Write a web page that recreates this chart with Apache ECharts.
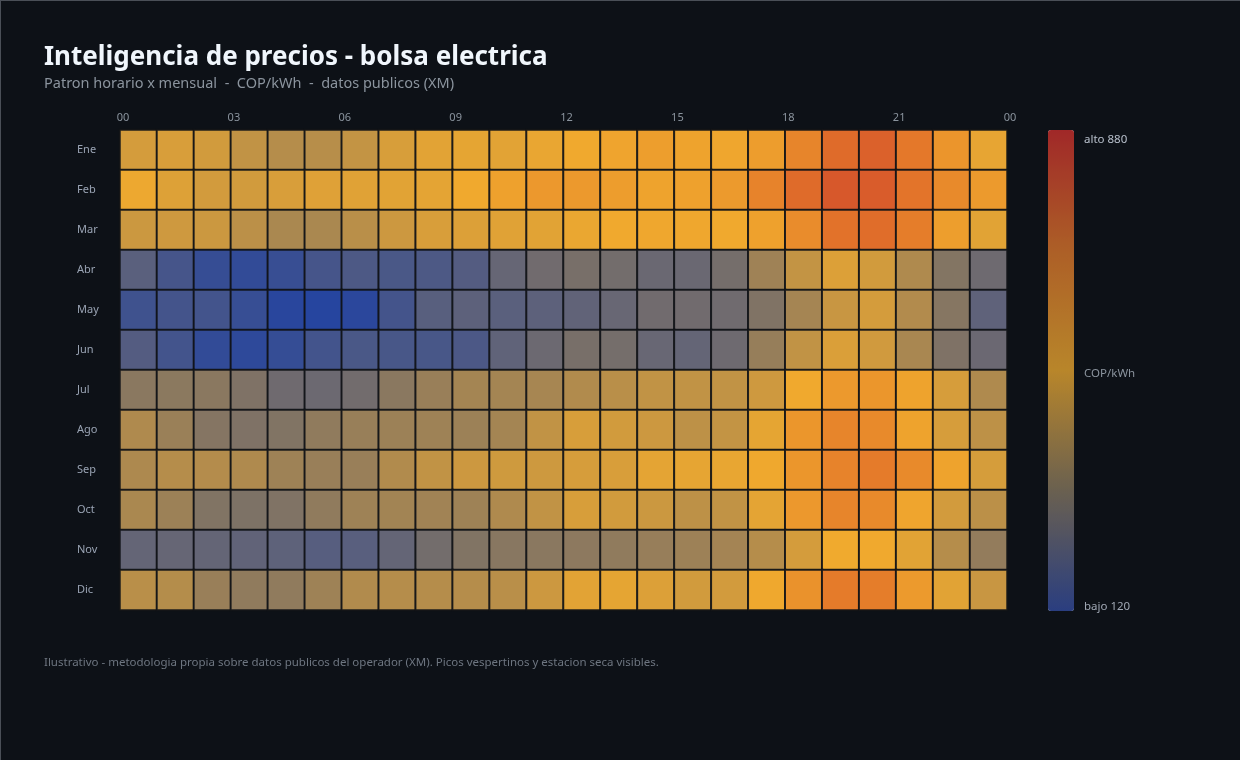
<!DOCTYPE html>
<html lang="es">
<head>
<meta charset="utf-8">
<title>Inteligencia de precios - bolsa electrica</title>
<script src="https://cdn.jsdelivr.net/npm/echarts@6/dist/echarts.min.js"></script>
<style>
  html, body { margin: 0; padding: 0; background: #0d1117; }
  #chart {
    width: 1240px; height: 760px; box-sizing: border-box;
    border-top: 1px solid #4a4f57; border-left: 1px solid #4a4f57;
  }
</style>
</head>
<body>
<div id="chart"></div>
<script>
  // horas del dia (columnas) y meses (filas)
  const horas = ['00','01','02','03','04','05','06','07','08','09','10','11',
                 '12','13','14','15','16','17','18','19','20','21','22','23'];
  const meses = ['Ene','Feb','Mar','Abr','May','Jun','Jul','Ago','Sep','Oct','Nov','Dic'];
  // etiquetas del eje superior (cada 3 horas, 24 -> 00)
  const horasEje = [0, 3, 6, 9, 12, 15, 18, 21, 24];

  // precio bolsa COP/kWh por mes (fila) y hora (columna)
  const ene = [455,462,450,425,405,408,428,460,478,482,478,488,505,523,545,525,515,550,640,725,752,690,580,485];
  const feb = [495,470,452,450,462,472,475,476,480,505,535,570,565,550,528,535,560,650,725,775,765,700,620,560];
  const mar = [440,445,440,415,388,388,412,442,462,468,475,476,490,505,510,510,505,535,615,705,720,670,545,476];
  const abr = [240,195,160,150,165,195,210,205,210,225,265,290,305,295,275,275,300,370,428,468,450,395,325,283];
  const may = [180,190,188,162,130,125,135,190,235,245,240,245,255,270,290,290,287,320,380,436,455,400,330,250];
  const jun = [225,188,152,142,158,188,205,200,200,208,252,280,305,300,270,262,283,355,425,465,448,385,318,276];
  const jul = [335,338,335,318,285,280,292,335,360,378,378,382,398,412,425,425,425,445,505,565,575,525,458,395];
  const ago = [395,362,328,318,322,345,358,365,368,365,378,425,460,450,442,418,428,482,575,640,620,525,458,418];
  const sep = [392,405,403,395,368,360,360,398,425,442,446,443,458,462,480,484,487,508,575,650,680,620,525,456];
  const oct = [388,365,322,315,320,345,368,375,372,368,395,425,460,450,440,418,425,480,570,640,620,520,452,415];
  const nov = [262,266,262,255,248,232,236,262,295,322,332,335,340,345,356,366,377,405,455,500,505,476,405,350];
  const dic = [412,404,360,345,345,368,398,405,405,405,412,442,478,482,468,450,452,508,590,680,670,560,476,436];
  const precios = [ene, feb, mar, abr, may, jun, jul, ago, sep, oct, nov, dic];

  const escala = [120, 880];
  const colores = ['#2444a0', '#7a7068', '#f0aa2e', '#e4782a', '#c8302c'];
  const coloresBarra = ['#2a3e80', '#6a6050', '#b8862a', '#ad5f27', '#a02828'];

  const datos = [];
  precios.forEach((fila, m) => {
    fila.forEach((v, h) => datos.push([h, m, v]));
  });

  const fuente = '"Noto Sans", "Open Sans", sans-serif';
  const chart = echarts.init(document.getElementById('chart'));

  const option = {
    backgroundColor: '#0d1117',
    animation: false,
    textStyle: { fontFamily: fuente },
    title: [
      {
        text: 'Inteligencia de precios - bolsa electrica',
        left: 43, top: 44, padding: 0,
        textStyle: { color: '#f0f6fc', fontSize: 26, fontWeight: 'bold', fontFamily: fuente }
      },
      {
        text: 'Patron horario x mensual  -  COP/kWh  -  datos publicos (XM)',
        left: 43, top: 75, padding: 0,
        textStyle: { color: '#8b949e', fontSize: 14.5, fontWeight: 'normal', fontFamily: fuente }
      },
      {
        text: 'Ilustrativo - metodologia propia sobre datos publicos del operador (XM). Picos vespertinos y estacion seca visibles.',
        left: 43, top: 656, padding: 0,
        textStyle: { color: '#6e7681', fontSize: 11.5, fontWeight: 'normal', fontFamily: fuente }
      }
    ],
    grid: { left: 119, top: 129, width: 887, height: 480 },
    xAxis: [
      {
        type: 'category',
        data: horas,
        position: 'bottom',
        axisLine: { show: false },
        axisTick: { show: false },
        axisLabel: { show: false },
        splitLine: { show: false }
      },
      {
        type: 'value',
        position: 'top',
        min: horasEje[0],
        max: horasEje[horasEje.length - 1],
        interval: 3,
        axisLine: { show: false },
        axisTick: { show: false },
        splitLine: { show: false },
        axisLabel: {
          color: '#8b949e',
          fontSize: 11,
          margin: 7,
          padding: [0, 0, 0, 6],
          formatter: v => String(v % 24).padStart(2, '0')
        }
      }
    ],
    yAxis: {
      type: 'category',
      data: meses,
      inverse: true,
      axisLine: { show: false },
      axisTick: { show: false },
      splitLine: { show: false },
      axisLabel: { color: '#9aa4b4', fontSize: 11, align: 'left', margin: 43, padding: [7, 0, 0, 0] }
    },
    visualMap: {
      type: 'continuous',
      min: escala[0],
      max: escala[1],
      calculable: false,
      orient: 'vertical',
      left: 1032,
      top: 114,
      itemWidth: 26,
      itemHeight: 481,
      inRange: { color: colores },
      controller: { inRange: { color: coloresBarra } },
      textStyle: { color: '#8b949e' }
    },
    graphic: [
      { type: 'text', left: 1083, top: 133, style: { text: 'alto ' + escala[1], fill: '#b8c0cc', fontSize: 11.5, fontFamily: fuente } },
      { type: 'text', left: 1083, top: 367, style: { text: 'COP/kWh', fill: '#8b949e', fontSize: 11.5, fontFamily: fuente } },
      { type: 'text', left: 1083, top: 600, style: { text: 'bajo ' + escala[0], fill: '#a0a8b4', fontSize: 11.5, fontFamily: fuente } }
    ],
    series: [
      {
        type: 'heatmap',
        xAxisIndex: 0,
        yAxisIndex: 0,
        data: datos,
        itemStyle: { borderColor: 'rgba(16,18,22,0.9)', borderWidth: 2 },
        emphasis: { disabled: true }
      }
    ]
  };

  chart.setOption(option);
</script>
</body>
</html>
